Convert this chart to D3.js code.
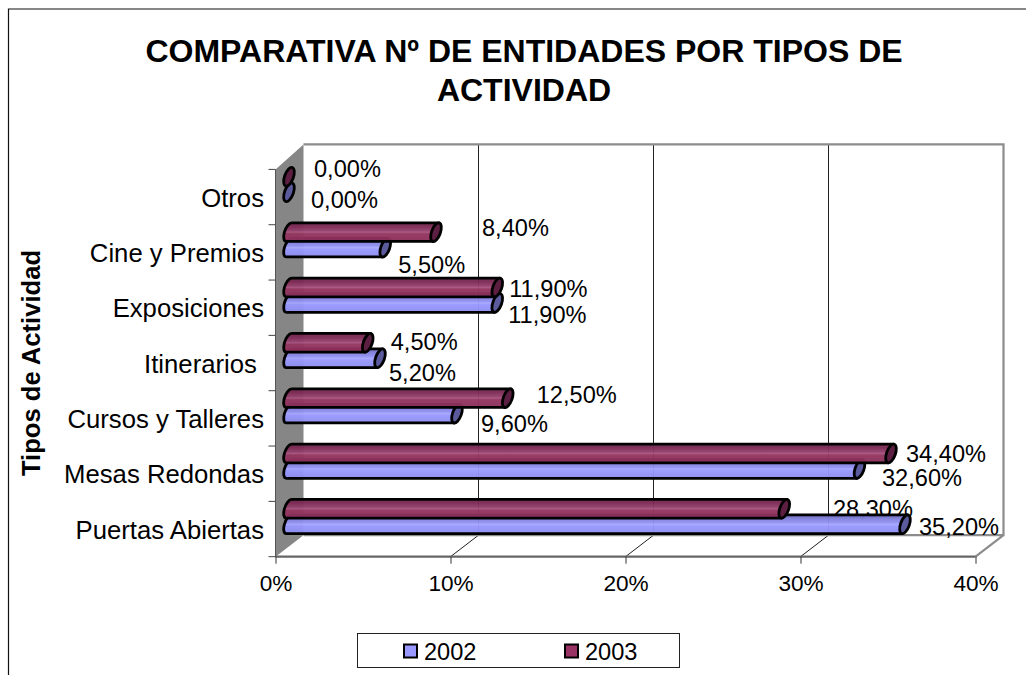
<!DOCTYPE html>
<html>
<head>
<meta charset="utf-8">
<script src="https://cdn.jsdelivr.net/npm/d3@7"></script>
<style>
    html, body { margin: 0; padding: 0; background: #fff; }
    svg { display: block; font-family: "Liberation Sans", Arial, sans-serif; }
</style>
</head>
<body>
<div id="chart"></div>
<script>
const categories = ["Puertas Abiertas", "Mesas Redondas", "Cursos y Talleres", "Itinerarios ", "Exposiciones", "Cine y Premios", "Otros"];
const values2002 = [35.2, 32.6, 9.6, 5.2, 11.9, 5.5, 0];
const values2003 = [28.3, 34.4, 12.5, 4.5, 11.9, 8.4, 0];
const xTicks = [0, 10, 20, 30, 40];
const titleLines = ["COMPARATIVA Nº DE ENTIDADES POR TIPOS DE", "ACTIVIDAD"];

// label offsets from the bar end, placed by hand in the original
const labelShift2002 = [[6, 2], [14.5, 9], [16, 10], [1, 14], [3, 12], [5, 17], [14, 7]];
const labelShift2003 = [[40.7, 0], [7, 0.5], [21, -4], [15, -1], [4, 1.5], [38, -5], [17, -8]];

const width = 1026, height = 675;
const depthX = 28, depthY = 21.5;
const barX = 13.5;

const svg = d3.select("#chart").append("svg")
    .attr("width", width)
    .attr("height", height);

svg.append("rect").attr("width", width).attr("height", height).attr("fill", "#fff");

// frame, open on the right and the bottom
svg.append("path")
    .attr("d", `M8.5,${height}V9H${width}`)
    .attr("fill", "none")
    .attr("stroke", "#111")
    .attr("stroke-width", 1.2);

const x = d3.scaleLinear().domain([0, 40]).range([275.5, 975.5]);
const y = d3.scaleBand().domain(categories).range([556.7, 169.4]);

const x0 = x(0), x40 = x(40), yFloor = y.range()[0], yTop = y.range()[1];

// gradients for the cylinders
const defs = svg.append("defs");
function addGradient(id, stops) {
    const grad = defs.append("linearGradient")
        .attr("id", id)
        .attr("x1", 0).attr("x2", 0).attr("y1", 0).attr("y2", 1);
    stops.forEach(s => grad.append("stop").attr("offset", s[0]).attr("stop-color", s[1]));
}
addGradient("grad2003", [[0, "#70254c"], [0.2, "#7d2a55"], [0.42, "#93406b"], [0.5, "#a85480"], [0.58, "#94365f"], [1, "#8a2e5c"]]);
addGradient("grad2002", [[0, "#6666b4"], [0.2, "#8080dc"], [0.42, "#9393f4"], [0.5, "#a8a8ff"], [0.58, "#9999ff"], [1, "#8c8cf0"]]);

// left wall
svg.append("path")
    .attr("d", `M${x0},${yTop}L${x0 + depthX},${yTop - 25}V${yFloor - depthY}L${x0},${yFloor}Z`)
    .attr("fill", "#868686");

// back wall gridlines
svg.append("g").selectAll("line")
    .data(xTicks.slice(1, 4))
    .join("line")
    .attr("x1", d => x(d) + depthX).attr("x2", d => x(d) + depthX)
    .attr("y1", yTop - 25).attr("y2", yFloor - depthY)
    .attr("stroke", "#222");

// floor gridlines
svg.append("g").selectAll("line")
    .data(xTicks.slice(1, 4))
    .join("line")
    .attr("x1", d => x(d)).attr("x2", d => x(d) + depthX)
    .attr("y1", yFloor).attr("y2", yFloor - depthY)
    .attr("stroke", "#222");

// grey box edges
svg.append("path")
    .attr("d", `M${x0 + depthX},${yTop - 25}H${x40 + depthX}V${yFloor - depthY}H${x0 + depthX}`
        + `M${x40 + depthX},${yFloor - depthY}L${x40},${yFloor}`)
    .attr("fill", "none")
    .attr("stroke", "#8c8c8c")
    .attr("stroke-width", 2.2);
svg.append("line")
    .attr("x1", x0).attr("x2", x40)
    .attr("y1", yFloor).attr("y2", yFloor)
    .attr("stroke", "#666")
    .attr("stroke-width", 2.2);

// axis line and ticks on the category side
svg.append("line")
    .attr("x1", x0).attr("x2", x0)
    .attr("y1", yTop).attr("y2", yFloor)
    .attr("stroke", "#555");
svg.append("g").selectAll("line")
    .data(d3.range(categories.length + 1))
    .join("line")
    .attr("x1", x0 - 7).attr("x2", x0)
    .attr("y1", i => yFloor - i * y.step())
    .attr("y2", i => yFloor - i * y.step())
    .attr("stroke", "#444");

const fmt = v => v.toFixed(2).replace(".", ",") + "%";

// labels go under the bars, the bars cut through some of them
function drawLabels(values, shifts, offset) {
    svg.append("g").selectAll("text")
        .data(values)
        .join("text")
        .attr("x", (d, i) => x(d) + barX + 8 + shifts[i][0])
        .attr("y", (d, i) => y(categories[i]) + y.bandwidth() / 2 - depthY / 2 + offset + shifts[i][1])
        .attr("dy", "0.36em")
        .attr("font-size", 23.6)
        .attr("fill", "#000")
        .text(d => fmt(d));
}
drawLabels(values2002, labelShift2002, 6);
drawLabels(values2003, labelShift2003, -9.5);

// tilted ellipse of the cylinder
const capA = 9.8, capB = 4.4, capTilt = 20 * Math.PI / 180;
const capH = Math.sqrt(capA * capA * Math.cos(capTilt) ** 2 + capB * capB * Math.sin(capTilt) ** 2);
const capSkew = (capA * capA - capB * capB) * Math.sin(capTilt) * Math.cos(capTilt) / capH;

function drawBar(g, value, cy, fill, capFill) {
    const left = x(0) + barX, right = x(value) + barX;
    if (value > 0) {
        g.append("path")
            .attr("d", `M${left + capSkew},${cy - capH}L${right + capSkew},${cy - capH}`
                + `L${right - capSkew},${cy + capH}L${left - capSkew},${cy + capH}`
                + `A${capB},${capA} 20 0 1 ${left + capSkew},${cy - capH}Z`)
            .attr("fill", fill)
            .attr("fill-opacity", 0.96)
            .attr("stroke", "#000")
            .attr("stroke-width", 2.8)
            .attr("stroke-linejoin", "round");
    }
    g.append("ellipse")
        .attr("rx", capB)
        .attr("ry", capA)
        .attr("transform", `translate(${right},${cy}) rotate(20)`)
        .attr("fill", capFill)
        .attr("stroke", "#000")
        .attr("stroke-width", 2.8);
}

// top category first so the lower ones overlap correctly
const barsG = svg.append("g");
d3.range(categories.length - 1, -1, -1).forEach(i => {
    const mid = y(categories[i]) + y.bandwidth() / 2 - depthY / 2;
    drawBar(barsG, values2002[i], mid + 6, "url(#grad2002)", "#5a5a9c");
    drawBar(barsG, values2003[i], mid - 9.5, "url(#grad2003)", "#5c1f42");
});

// axes
const xAxis = svg.append("g")
    .attr("transform", `translate(0,${yFloor})`)
    .call(d3.axisBottom(x).tickValues(xTicks).tickFormat(d => d + "%").tickSize(7).tickPadding(11.5));
xAxis.select(".domain").remove();
xAxis.selectAll(".tick line").attr("stroke", "#333");
xAxis.selectAll(".tick text")
    .attr("font-family", "inherit")
    .attr("font-size", 22.6)
    .attr("fill", "#000");

const yAxis = svg.append("g")
    .attr("transform", `translate(${x0},1.5)`)
    .call(d3.axisLeft(y).tickSize(0).tickPadding(11.5));
yAxis.select(".domain").remove();
yAxis.selectAll(".tick text")
    .attr("font-family", "inherit")
    .attr("font-size", 25.7)
    .attr("fill", "#000")
    .style("white-space", "pre");

// titles
svg.append("g").selectAll("text")
    .data(titleLines)
    .join("text")
    .attr("x", 524)
    .attr("y", (d, i) => 62 + i * 38.5)
    .attr("text-anchor", "middle")
    .attr("font-size", 32)
    .attr("font-weight", "bold")
    .text(d => d);

svg.append("text")
    .attr("transform", "translate(40,363) rotate(-90)")
    .attr("text-anchor", "middle")
    .attr("font-size", 25.6)
    .attr("font-weight", "bold")
    .text("Tipos de Actividad");

// legend
const legend = svg.append("g");
legend.append("rect")
    .attr("x", 357.5).attr("y", 633.5)
    .attr("width", 322).attr("height", 34)
    .attr("fill", "#fff")
    .attr("stroke", "#222");
const legendItems = legend.selectAll("g")
    .data([["2002", "#9999ff", 404], ["2003", "#993366", 565]])
    .join("g")
    .attr("transform", d => `translate(${d[2]},644.5)`);
legendItems.append("rect")
    .attr("width", 13).attr("height", 13)
    .attr("fill", d => d[1])
    .attr("stroke", "#000")
    .attr("stroke-width", 2);
legendItems.append("text")
    .attr("x", 20).attr("y", 6.5)
    .attr("dy", "0.36em")
    .attr("font-size", 23.6)
    .text(d => d[0]);
</script>
</body>
</html>
